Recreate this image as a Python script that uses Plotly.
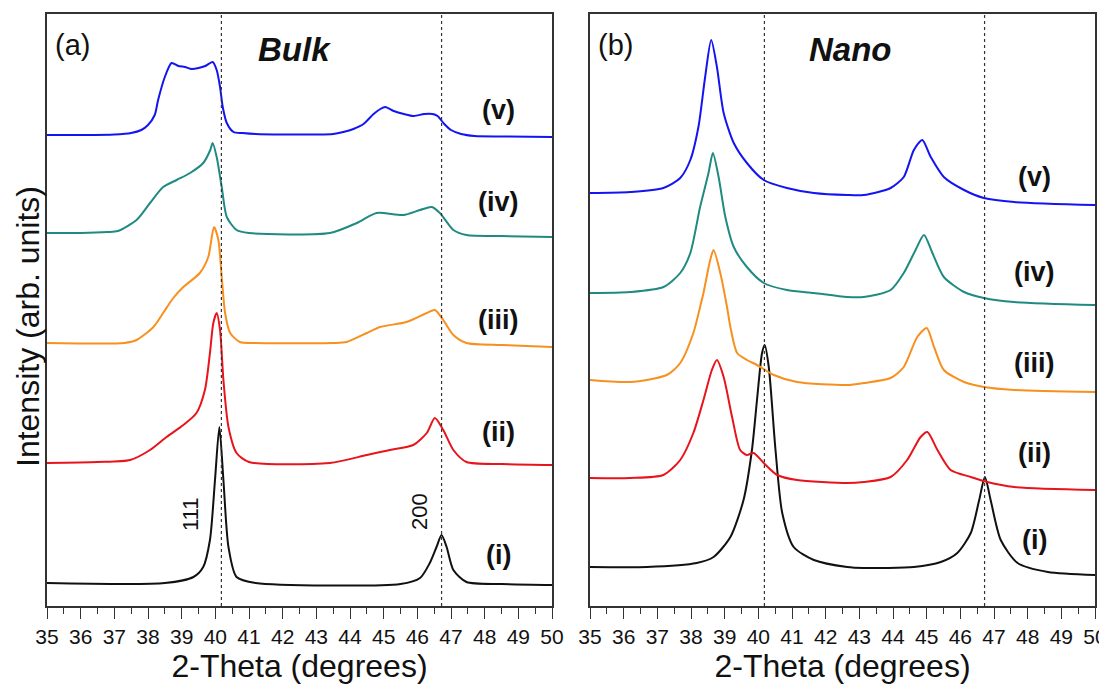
import plotly.graph_objects as go

# ---------------- data (2-theta in degrees, intensity in arb. units) ----------------
bulk_v_x = [35, 36, 37, 37.5, 37.8, 38.0, 38.2, 38.3, 38.5, 38.7, 38.9, 39.1, 39.3, 39.5, 39.7, 39.92,
            40.04, 40.14, 40.22, 40.34, 40.54, 40.8, 41.2, 42, 43, 43.5, 43.8, 44.1, 44.4, 44.7, 44.9,
            45.05, 45.3, 45.6, 45.9, 46.2, 46.45, 46.6, 46.8, 47.0, 47.3, 47.7, 48.5, 50]
bulk_v_y = [470, 470, 470.5, 472, 475, 480, 490, 505, 528, 542, 539, 538, 536, 537, 539, 543,
            535, 518, 498, 482, 473, 472, 471, 470.5, 470.5, 471, 473, 476, 481, 491, 496,
            498, 494, 491, 489, 491, 491, 489, 481, 475, 471, 469, 468.5, 468]

bulk_iv_x = [35, 36, 36.8, 37.1, 37.66, 38.06, 38.45, 38.85, 39.25, 39.64, 39.85, 39.92, 40.04, 40.19,
             40.34, 40.63, 41.0, 43.4, 44.2, 44.79, 45.58, 46.08, 46.43, 46.67, 47.07, 47.46, 48.5, 50]
bulk_iv_y = [372, 372, 373, 374, 385, 402, 418, 425, 432, 442, 455, 462, 448, 418,
             388, 375, 372, 372, 382, 392, 390, 395, 398, 392, 375, 370, 369, 368]

bulk_iii_x = [35, 37.3, 37.66, 38.16, 38.45, 38.75, 39.05, 39.54, 39.79, 39.96, 40.09, 40.19, 40.29,
              40.44, 40.73, 41.2, 43.5, 43.9, 44.5, 44.89, 45.68, 46.28, 46.52, 46.77, 47.07, 47.46, 48.5, 50]
bulk_iii_y = [262, 262, 265, 278, 292, 307, 318, 332, 348, 378, 365, 328, 292,
              272, 263, 262, 262, 263, 272, 278, 283, 292, 295, 285, 270, 262, 260, 258]

bulk_ii_x = [35, 36.5, 37.47, 38.06, 38.55, 39.05, 39.44, 39.69, 39.84, 39.94, 40.04, 40.14, 40.24,
             40.39, 40.63, 41.0, 43.4, 44.5, 45.19, 45.88, 46.28, 46.52, 46.77, 47.07, 47.46, 48.5, 50]
bulk_ii_y = [142, 143, 145, 155, 168, 180, 192, 215, 252, 282, 292, 275, 225,
             178, 152, 143, 142, 150, 155, 160, 172, 187, 175, 155, 143, 141, 140]

bulk_i_x = [35, 38.5, 39.35, 39.64, 39.84, 39.99, 40.12, 40.24, 40.39, 40.63, 41.2, 45.5, 46.08,
            46.37, 46.57, 46.72, 46.87, 47.07, 47.46, 48.5, 50]
bulk_i_y = [22, 22, 28, 38, 65, 125, 178, 125, 58, 28, 22, 21, 27,
            42, 58, 70, 58, 35, 23, 21, 20]

nano_v_x = [35, 36.19, 37.18, 37.68, 37.98, 38.22, 38.42, 38.6, 38.77, 38.97, 39.27, 39.66, 40.16,
            40.85, 41.65, 42.64, 43.13, 43.93, 44.32, 44.62, 44.87, 45.12, 45.51, 46.11, 46.7, 47.6, 50]
nano_v_y = [412, 413, 417, 427, 445, 478, 528, 565, 538, 492, 462, 442, 425,
            417, 412, 410, 410, 417, 428, 455, 465, 448, 428, 415, 407, 403, 400]

nano_iv_x = [35, 36.19, 37.18, 37.68, 37.98, 38.27, 38.52, 38.65, 38.82, 39.02, 39.27, 39.66, 40.16,
             40.85, 41.65, 42.64, 43.13, 43.93, 44.32, 44.67, 44.92, 45.17, 45.51, 46.11, 46.7, 47.6, 50]
nano_iv_y = [312, 313, 318, 332, 352, 398, 432, 452, 428, 388, 358, 338, 322,
             315, 312, 308, 308, 315, 332, 355, 370, 352, 328, 313, 307, 303, 300]

nano_iii_x = [35, 36.19, 37.28, 37.68, 38.07, 38.27, 38.37, 38.57, 38.67, 38.87, 39.07, 39.17, 39.37,
              39.66, 39.96, 40.46, 41.15, 42.64, 43.13, 43.93, 44.32, 44.72, 45.0, 45.22, 45.51, 46.11,
              46.7, 47.6, 50]
nano_iii_y = [225, 223, 230, 242, 272, 298, 312, 345, 355, 332, 298, 278, 252,
              245, 240, 230, 223, 220, 222, 227, 238, 268, 277, 258, 235, 223,
              218, 215, 213]

nano_ii_x = [35, 36.19, 37.18, 37.68, 38.07, 38.37, 38.62, 38.77, 38.97, 39.22, 39.46, 39.66, 39.86,
             40.16, 40.56, 41.15, 42.64, 43.13, 43.93, 44.42, 44.82, 45.02, 45.32, 45.71, 46.31, 46.8,
             47.6, 50]
nano_ii_y = [127, 127, 130, 145, 172, 205, 235, 245, 228, 188, 155, 150, 152,
             142, 130, 125, 122, 123, 128, 145, 168, 173, 155, 135, 128, 123,
             118, 115]

nano_i_x = [35, 36.69, 38.17, 38.67, 39.17, 39.56, 39.81, 39.96, 40.11, 40.19, 40.31, 40.51, 40.71,
            41.05, 41.65, 42.64, 43.13, 44.62, 45.42, 45.91, 46.31, 46.56, 46.73, 46.9, 47.2, 47.7,
            48.6, 50]
nano_i_y = [38, 38, 42, 48, 68, 105, 155, 205, 252, 260, 238, 155, 92,
            58, 45, 38, 37, 38, 43, 52, 72, 105, 128, 105, 65, 42,
            33, 30]

series_names = ["(i)", "(ii)", "(iii)", "(iv)", "(v)"]
series_colors = ["#111111", "#e8141c", "#f7901e", "#1f8a82", "#1414f2"]
ref_lines = [40.18, 46.72]
ref_labels = ["111", "200"]
x_ticks = list(range(35, 51))

bulk = [(bulk_i_x, bulk_i_y), (bulk_ii_x, bulk_ii_y), (bulk_iii_x, bulk_iii_y),
        (bulk_iv_x, bulk_iv_y), (bulk_v_x, bulk_v_y)]
nano = [(nano_i_x, nano_i_y), (nano_ii_x, nano_ii_y), (nano_iii_x, nano_iii_y),
        (nano_iv_x, nano_iv_y), (nano_v_x, nano_v_y)]

# label positions (style only)
bulk_label_y = [50, 173, 285, 403, 495]
bulk_label_x = 48.4
nano_label_y = [65, 152, 242, 333, 428]
nano_label_x = 48.2

fig = go.Figure()
for (xs, ys), name, col in zip(bulk, series_names, series_colors):
    fig.add_trace(go.Scatter(x=xs, y=ys, mode="lines", name=name,
                             line=dict(color=col, width=2, shape="spline", smoothing=0.7),
                             xaxis="x", yaxis="y", showlegend=False))
for (xs, ys), name, col in zip(nano, series_names, series_colors):
    fig.add_trace(go.Scatter(x=xs, y=ys, mode="lines", name=name,
                             line=dict(color=col, width=2, shape="spline", smoothing=0.7),
                             xaxis="x2", yaxis="y2", showlegend=False))

# the page body has an 8px margin, so the paper is offset by 8px
OFF = 8
W, H = 1107 - OFF, 687 - OFF
xd1 = [(47 - OFF) / W, (552 - OFF) / W]
xd2 = [(590 - OFF) / W, (1095 - OFF) / W]
yd = [1 - (606 - OFF) / H, 1 - (14 - OFF) / H]
yr = [-1, 591]

tickfont = dict(family="Liberation Sans Narrow, Arial Narrow, Liberation Sans, Arial", size=21, color="#111")
axcommon = dict(range=[35, 50], tickmode="array", tickvals=x_ticks, ticktext=[str(t) for t in x_ticks],
                ticks="outside", ticklen=11, tickwidth=1.3, tickcolor="#333", showline=True,
                linecolor="#333", linewidth=1.5, mirror=True, showgrid=False, zeroline=False,
                tickfont=tickfont, automargin=False,
                minor=dict(ticks="outside", ticklen=6, tickwidth=1.2, tickcolor="#333", dtick=0.5,
                           tick0=35, showgrid=False),
                title=dict(text="2-Theta (degrees)", font=dict(family="Liberation Sans, Arial", size=32, color="#111"),
                           standoff=6))
yaxcommon = dict(range=yr, showline=True, linecolor="#333", linewidth=1.5, mirror=True, showgrid=False,
                 zeroline=False, showticklabels=False, ticks="", automargin=False)

fig.update_layout(
    width=W, height=H, margin=dict(l=0, r=0, t=0, b=0, autoexpand=False),
    paper_bgcolor="white", plot_bgcolor="white",
    xaxis=dict(domain=xd1, anchor="y", **axcommon),
    yaxis=dict(domain=yd, anchor="x", **yaxcommon),
    xaxis2=dict(domain=xd2, anchor="y2", **axcommon),
    yaxis2=dict(domain=yd, anchor="x2", **yaxcommon),
)

shapes = []
for xr, yr_ in (("x", "y"), ("x2", "y2")):
    for xv in ref_lines:
        shapes.append(dict(type="line", xref=xr, yref=yr_ + " domain", x0=xv, x1=xv, y0=0, y1=1,
                           line=dict(color="#333", width=1.2, dash="dot")))
fig.update_layout(shapes=shapes)

ann = []
lab_font = dict(family="Liberation Sans, Arial", size=29, color="#111")
title_font = dict(family="Liberation Sans, Arial", size=33, color="#111")
bold_font = dict(family="Liberation Sans, Arial", size=27, color="#111")
ann.append(dict(text="(a)", x=0.012, y=0.948, xref="x domain", yref="y domain", showarrow=False,
                xanchor="left", yanchor="middle", font=lab_font))
ann.append(dict(text="<b><i>Bulk</i></b>", x=0.49, y=0.94, xref="x domain", yref="y domain",
                showarrow=False, xanchor="center", yanchor="middle", font=title_font))
ann.append(dict(text="(b)", x=0.012, y=0.948, xref="x2 domain", yref="y2 domain", showarrow=False,
                xanchor="left", yanchor="middle", font=lab_font))
ann.append(dict(text="<b><i>Nano</i></b>", x=0.515, y=0.94, xref="x2 domain", yref="y2 domain",
                showarrow=False, xanchor="center", yanchor="middle", font=title_font))
for name, ly in zip(series_names, bulk_label_y):
    ann.append(dict(text="<b>" + name + "</b>", x=bulk_label_x, y=ly, xref="x", yref="y", showarrow=False,
                    xanchor="center", yanchor="middle", font=bold_font))
for name, ly in zip(series_names, nano_label_y):
    ann.append(dict(text="<b>" + name + "</b>", x=nano_label_x, y=ly, xref="x2", yref="y2", showarrow=False,
                    xanchor="center", yanchor="middle", font=bold_font))
small_font = dict(family="Liberation Sans, Arial", size=22, color="#111")
ann.append(dict(text=ref_labels[0], x=39.25, y=90, xref="x", yref="y", showarrow=False, textangle=-90,
                font=small_font))
ann.append(dict(text=ref_labels[1], x=46.05, y=93, xref="x", yref="y", showarrow=False, textangle=-90,
                font=small_font))
ann.append(dict(text="Intensity (arb. units)", x=(28 - OFF) / W, y=1 - (327 - OFF) / H, xref="paper",
                yref="paper", showarrow=False, textangle=-90, xanchor="center", yanchor="middle",
                font=dict(family="Liberation Sans, Arial", size=32, color="#111")))
fig.update_layout(annotations=ann)

fig.write_html("out.html")
